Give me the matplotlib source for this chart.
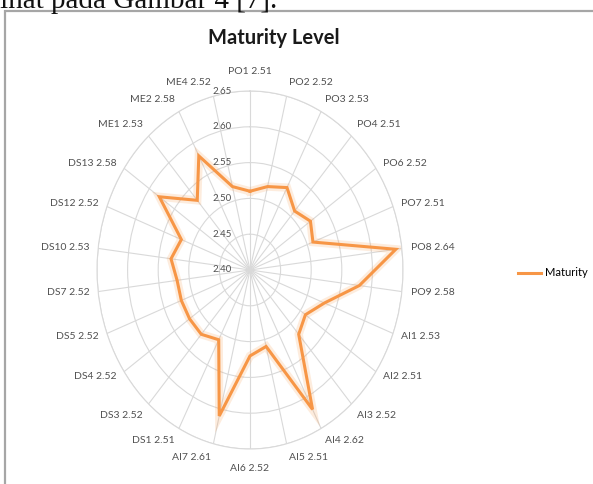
import numpy as np
import matplotlib.pyplot as plt
from matplotlib.patches import Rectangle

processes = ['PO1', 'PO2', 'PO3', 'PO4', 'PO6', 'PO7', 'PO8', 'PO9',
             'AI1', 'AI2', 'AI3', 'AI4', 'AI5', 'AI6', 'AI7',
             'DS1', 'DS3', 'DS4', 'DS5', 'DS7', 'DS10', 'DS12', 'DS13',
             'ME1', 'ME2', 'ME4']
maturity = [2.51, 2.52, 2.53, 2.51, 2.52, 2.51, 2.64, 2.58,
            2.53, 2.51, 2.52, 2.62, 2.51, 2.52, 2.61,
            2.51, 2.52, 2.52, 2.52, 2.52, 2.53, 2.52, 2.58,
            2.53, 2.58, 2.52]
r_ticks = [2.40, 2.45, 2.50, 2.55, 2.60, 2.65]

orange = '#F79646'
label_font = ['Lato', 'DejaVu Sans']

fig = plt.figure(figsize=(5.93, 4.84), dpi=100)

# bit of the document text above the chart, cut off at the top edge
fig.text(-0.014, 1 - 8 / 484, 'lihat pada Gambar 4 [7].', family='Liberation Serif',
         fontsize=21, va='baseline', ha='left', color='#111111')

# chart frame
fig.add_artist(Rectangle((5 / 593, -0.05), 1.1, 1 - 11 / 484 + 0.05,
                         transform=fig.transFigure, fill=False,
                         edgecolor='#a6a6a6', lw=1.6))

ax = fig.add_axes([97 / 593, 35 / 484, 306 / 593, 358 / 484], projection='polar')
ax.set_aspect('auto')
ax.set_theta_zero_location('N')
ax.set_theta_direction(-1)

n = len(processes)
angles = np.arange(n) * 2 * np.pi / n
theta = np.append(angles, angles[0])
vals = np.append(maturity, maturity[0])

ax.set_ylim(r_ticks[0], r_ticks[-1])
ax.set_yticks(r_ticks)
ax.set_yticklabels([])
ax.set_xticks(angles)
ax.set_xticklabels([])
ax.grid(color='#d9d9d9', lw=0.8)
ax.spines['polar'].set_color('#d9d9d9')
ax.spines['polar'].set_linewidth(0.8)

# soft glow then the line itself
ax.plot(theta, vals, color=orange, lw=6, alpha=0.18, solid_joinstyle='miter')
ax.plot(theta, vals, color=orange, lw=2.2, label='Maturity', solid_joinstyle='miter')

# category labels just outside the outer ring
for a, name, v in zip(angles, processes, maturity):
    s, c = np.sin(a), np.cos(a)
    ha = 'left' if s > 0.1 else ('right' if s < -0.1 else 'center')
    va = 'bottom' if c > 0.65 else ('top' if c < -0.65 else 'center')
    gap = 11 if abs(s) < 0.1 else 6.5
    ax.annotate(f'{name} {v:.2f}', xy=(a, r_ticks[-1]), xytext=(gap * s, gap * c),
                textcoords='offset points', ha=ha, va=va, fontsize=7.5,
                family=label_font, color='#505050', annotation_clip=False)

for r in r_ticks:
    ax.annotate(f'{r:.2f}', xy=(0, r), xytext=(-13, 0), textcoords='offset points',
                ha='right', va='center', fontsize=7, family=label_font,
                color='#505050', annotation_clip=False)

fig.text(274 / 593, 1 - 38 / 484, 'Maturity Level', ha='center', va='center',
         fontsize=14.5, fontweight='bold', family=label_font, color='#1a1a1a')

fig.legend(loc='center left', bbox_to_anchor=(508 / 593, 1 - 273 / 484),
           frameon=False, handlelength=2.1, handletextpad=0.3,
           prop={'family': 'Lato', 'size': 8})

fig.savefig('out.png', dpi=100, facecolor='white')
